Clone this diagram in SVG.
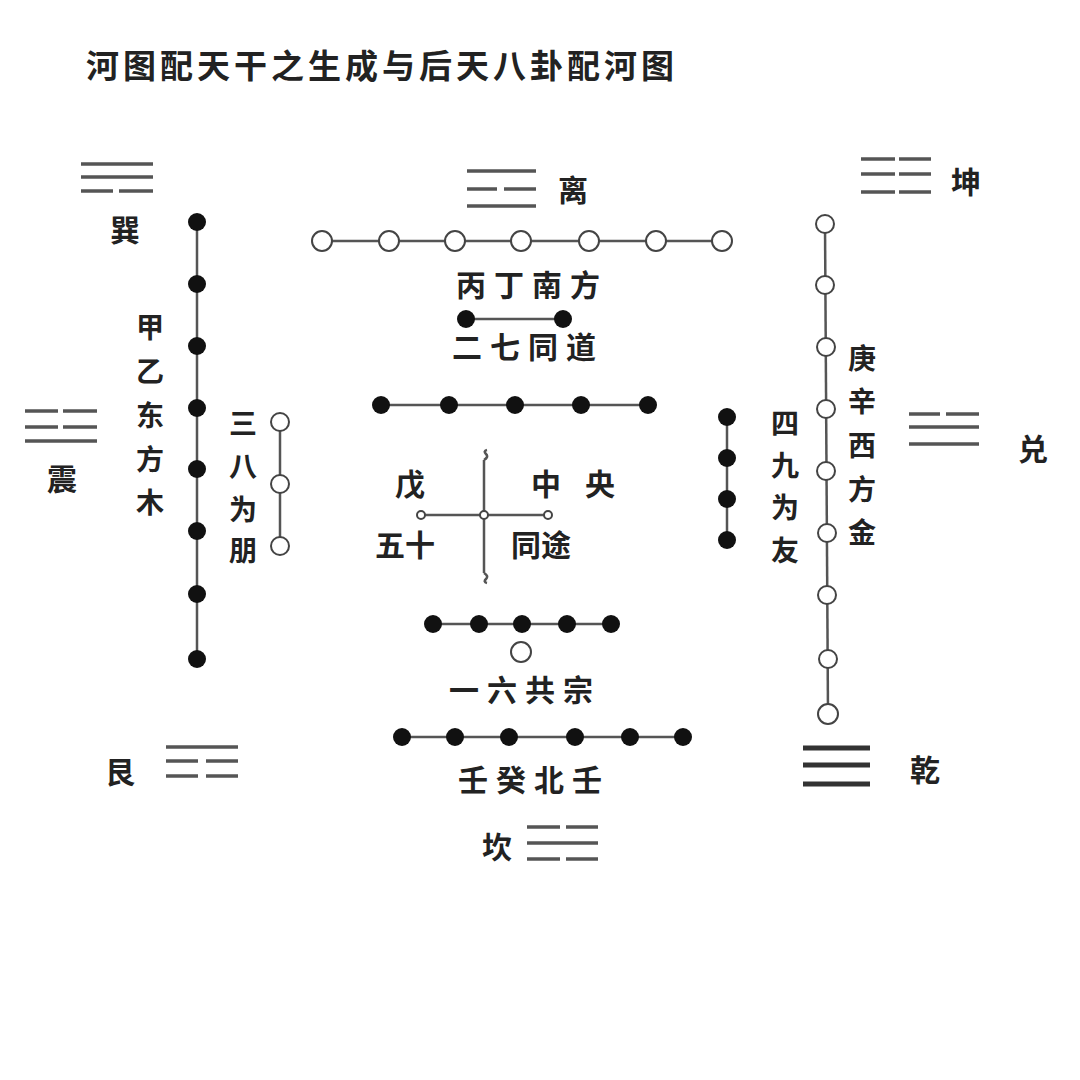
<svg xmlns="http://www.w3.org/2000/svg" width="1080" height="1080" viewBox="0 0 1080 1080">
<style>
text{font-family:"Noto Sans CJK SC","Noto Sans",sans-serif;fill:#222;font-size:30px;font-weight:700;text-anchor:middle;dominant-baseline:central}
.title{font-size:33px;text-anchor:start;letter-spacing:4px}
.h{letter-spacing:8px}
.v{font-size:28px}
.ln{stroke:#555;stroke-width:2.5;fill:none}
.tg{stroke:#555;stroke-width:3.5}
.tq{stroke:#333;stroke-width:5}
.f{fill:#111}
.o{fill:#fff;stroke:#444;stroke-width:2}
</style>
<rect width="1080" height="1080" fill="#fff"/>
<text class="title" x="86" y="64">河图配天干之生成与后天八卦配河图</text>

<g id="trigrams">
<g id="xun"><path class="tg" d="M81 164H153M81 177H153M81 191H113M119 191H153"/><text x="125" y="228">巽</text></g>
<g id="li"><path class="tg" d="M467 171H536M467 189H497M504 189H536M467 206H536"/><text x="573" y="188">离</text></g>
<g id="kun"><path class="tg" d="M861 159H895M899 159H931M861 174H895M899 174H931M861 192H895M899 192H931"/><text x="966" y="180">坤</text></g>
<g id="zhen"><path class="tg" d="M25 411H58M63 411H97M25 427H58M63 427H97M25 441H97"/><text x="62" y="477">震</text></g>
<g id="dui"><path class="tg" d="M909 414H940M946 414H979M909 427H979M909 444H979"/><text x="1033" y="447">兑</text></g>
<g id="gen"><path class="tg" d="M166 747H238M166 761H198M206 761H238M166 776H198M206 776H238"/><text x="120" y="770">艮</text></g>
<g id="qian"><path class="tq" d="M803 748H870M803 765H870M803 784H870"/><text x="925" y="768">乾</text></g>
<g id="kan"><path class="tg" d="M527 827H560M566 827H598M527 843H598M527 859H560M566 859H598"/><text x="497" y="845">坎</text></g>
</g>

<g id="connectors">
<path class="ln" d="M197 222V659"/>
<path class="ln" d="M280 422V546"/>
<path class="ln" d="M322 241H722"/>
<path class="ln" d="M466 319H563"/>
<path class="ln" d="M381 405H648"/>
<path class="ln" d="M727 417V540"/>
<path class="ln" d="M825 224L828 714"/>
<path class="ln" d="M433 624H611"/>
<path class="ln" d="M402 737H683"/>
<path class="ln" d="M421 515H548"/>
<path class="ln" d="M484 460V573M484 460q5 -3 2 -6t1 -4M484 573q5 3 2 6t1 4"/>
</g>

<g id="wood">
<circle class="f" cx="197" cy="222" r="9"/><circle class="f" cx="197" cy="284" r="9"/><circle class="f" cx="197" cy="346" r="9"/><circle class="f" cx="197" cy="408" r="9"/><circle class="f" cx="197" cy="469" r="9"/><circle class="f" cx="197" cy="531" r="9"/><circle class="f" cx="197" cy="594" r="9"/><circle class="f" cx="197" cy="659" r="9"/>
<text class="v" x="150" y="326">甲</text><text class="v" x="150" y="370">乙</text><text class="v" x="150" y="414">东</text><text class="v" x="150" y="458">方</text><text class="v" x="150" y="501">木</text>
</g>
<g id="three-eight">
<circle class="o" cx="280" cy="422" r="9"/><circle class="o" cx="280" cy="484" r="9"/><circle class="o" cx="280" cy="546" r="9"/>
<text class="v" x="243" y="422">三</text><text class="v" x="243" y="465">八</text><text class="v" x="243" y="508">为</text><text class="v" x="243" y="549">朋</text>
</g>
<g id="fire">
<circle class="o" cx="322" cy="241" r="10"/><circle class="o" cx="389" cy="241" r="10"/><circle class="o" cx="455" cy="241" r="10"/><circle class="o" cx="521" cy="241" r="10"/><circle class="o" cx="589" cy="241" r="10"/><circle class="o" cx="656" cy="241" r="10"/><circle class="o" cx="722" cy="241" r="10"/>
<text class="h" x="532" y="283">丙丁南方</text>
</g>
<g id="two-seven">
<circle class="f" cx="466" cy="319" r="9"/><circle class="f" cx="563" cy="319" r="9"/>
<text class="h" x="528" y="345">二七同道</text>
</g>
<g id="row-five">
<circle class="f" cx="381" cy="405" r="9"/><circle class="f" cx="449" cy="405" r="9"/><circle class="f" cx="515" cy="405" r="9"/><circle class="f" cx="581" cy="405" r="9"/><circle class="f" cx="648" cy="405" r="9"/>
</g>
<g id="center">
<circle class="o" cx="421" cy="515" r="4"/><circle class="o" cx="484" cy="515" r="4"/><circle class="o" cx="548" cy="515" r="4"/>
<text x="410" y="482">戊</text><text x="546" y="482">中</text><text x="600" y="482">央</text>
<text x="405" y="543">五十</text><text x="541" y="543">同途</text>
</g>
<g id="four-nine">
<circle class="f" cx="727" cy="417" r="9"/><circle class="f" cx="727" cy="458" r="9"/><circle class="f" cx="727" cy="499" r="9"/><circle class="f" cx="727" cy="540" r="9"/>
<text class="v" x="785" y="422">四</text><text class="v" x="785" y="464">九</text><text class="v" x="785" y="506">为</text><text class="v" x="785" y="549">友</text>
</g>
<g id="metal">
<circle class="o" cx="825" cy="224" r="9"/><circle class="o" cx="825" cy="285" r="9"/><circle class="o" cx="826" cy="347" r="9"/><circle class="o" cx="826" cy="409" r="9"/><circle class="o" cx="826" cy="471" r="9"/><circle class="o" cx="827" cy="533" r="9"/><circle class="o" cx="827" cy="595" r="9"/><circle class="o" cx="828" cy="659" r="9"/><circle class="o" cx="828" cy="714" r="10"/>
<text class="v" x="862" y="357">庚</text><text class="v" x="862" y="400">辛</text><text class="v" x="862" y="444">西</text><text class="v" x="862" y="488">方</text><text class="v" x="862" y="531">金</text>
</g>
<g id="one-six">
<circle class="f" cx="433" cy="624" r="9"/><circle class="f" cx="479" cy="624" r="9"/><circle class="f" cx="522" cy="624" r="9"/><circle class="f" cx="567" cy="624" r="9"/><circle class="f" cx="611" cy="624" r="9"/>
<circle class="o" cx="521" cy="652" r="10"/>
<text class="h" x="525" y="688">一六共宗</text>
</g>
<g id="water">
<circle class="f" cx="402" cy="737" r="9"/><circle class="f" cx="455" cy="737" r="9"/><circle class="f" cx="509" cy="737" r="9"/><circle class="f" cx="575" cy="737" r="9"/><circle class="f" cx="630" cy="737" r="9"/><circle class="f" cx="683" cy="737" r="9"/>
<text class="h" x="534" y="778">壬癸北壬</text>
</g>
</svg>
